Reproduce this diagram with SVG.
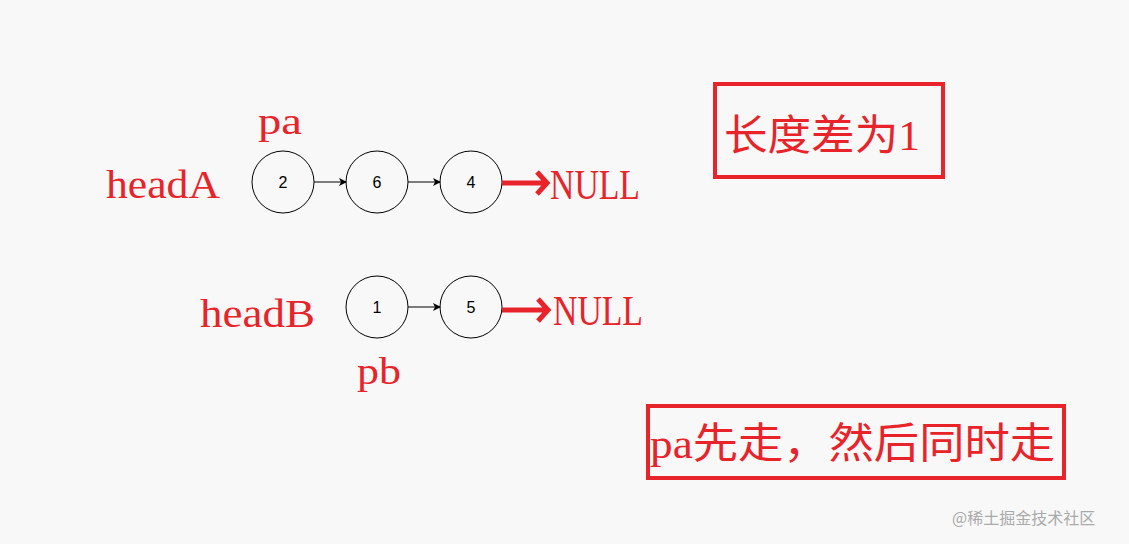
<svg xmlns="http://www.w3.org/2000/svg" width="1129" height="544" viewBox="0 0 1129 544">
<defs>
<marker id="a" markerWidth="8" markerHeight="8" refX="7" refY="4" orient="auto" markerUnits="userSpaceOnUse"><path d="M0,0 L8,4 L0,8 L2,4 Z" fill="#000"/></marker>
<style>
.n{fill:none;stroke:#000;stroke-width:1}
.nt{font-family:"Liberation Sans",sans-serif;font-size:16px;text-anchor:middle}
.r{fill:#e8232a;font-family:"Liberation Serif","Noto Sans CJK SC",serif}
.c{fill:#e8232a;font-family:"Liberation Serif","Noto Sans CJK SC",serif}
.bx{fill:none;stroke:#e8232a;stroke-width:4}
.ra{fill:none;stroke:#e8232a;stroke-width:5}
</style>
</defs>
<rect width="1129" height="544" fill="#f8f8f8"/>
<g id="n2"><circle class="n" cx="283" cy="182" r="31"/><text class="nt" x="283" y="188">2</text></g>
<g id="n6"><circle class="n" cx="377" cy="182" r="31"/><text class="nt" x="377" y="188">6</text></g>
<g id="n4"><circle class="n" cx="471" cy="182" r="31"/><text class="nt" x="471" y="188">4</text></g>
<g id="n1"><circle class="n" cx="377" cy="307" r="31"/><text class="nt" x="377" y="313">1</text></g>
<g id="n5"><circle class="n" cx="471" cy="307" r="31"/><text class="nt" x="471" y="313">5</text></g>
<g id="connectors">
<line class="n" x1="314" y1="182" x2="346" y2="182" marker-end="url(#a)"/>
<line class="n" x1="408" y1="182" x2="440" y2="182" marker-end="url(#a)"/>
<line class="n" x1="408" y1="307" x2="440" y2="307" marker-end="url(#a)"/>
<path class="ra" d="M502,183 H545 M537,172 L547,183 L537,194"/>
<path class="ra" d="M502,310 H546 M538,299 L548,310 L538,321"/>
</g>
<text class="r" x="258" y="134" font-size="38" textLength="44" lengthAdjust="spacingAndGlyphs">pa</text>
<text class="r" x="106" y="198" font-size="40" textLength="114" lengthAdjust="spacingAndGlyphs">headA</text>
<text class="r" x="550" y="199" font-size="42" textLength="90" lengthAdjust="spacingAndGlyphs">NULL</text>
<text class="r" x="200" y="327" font-size="40" textLength="115" lengthAdjust="spacingAndGlyphs">headB</text>
<text class="r" x="553" y="325" font-size="42" textLength="90" lengthAdjust="spacingAndGlyphs">NULL</text>
<text class="r" x="357" y="384" font-size="38" textLength="44" lengthAdjust="spacingAndGlyphs">pb</text>
<rect class="bx" x="715" y="84" width="228" height="93"/>
<text class="c" x="724" y="150" font-size="42" textLength="196" lengthAdjust="spacingAndGlyphs">长度差为1</text>
<rect class="bx" x="648" y="406" width="416" height="72"/>
<text class="c" x="650" y="458" font-size="42" textLength="405" lengthAdjust="spacingAndGlyphs">pa先走，然后同时走</text>
<text x="952" y="524" font-size="16" fill="#aaa" font-family="'Noto Sans CJK SC',sans-serif">@稀土掘金技术社区</text>
</svg>
